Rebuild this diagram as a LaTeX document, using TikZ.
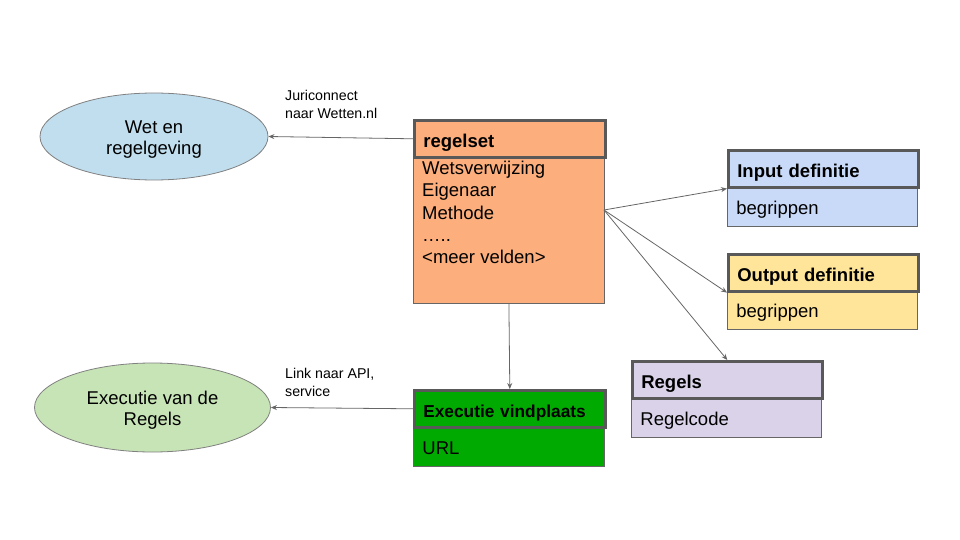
\documentclass[tikz,border=0pt]{standalone}
\usepackage{fontspec}
\setmainfont{Liberation Sans}
\usetikzlibrary{arrows.meta,shapes.geometric,calc}
\definecolor{hdrgray}{HTML}{595959}
\definecolor{linegray}{HTML}{666666}
\definecolor{orangefill}{RGB}{252,175,125}
\definecolor{inputfill}{HTML}{C9DAF8}
\definecolor{outputfill}{HTML}{FFE599}
\definecolor{regelsfill}{HTML}{D9D2E9}
\definecolor{execfill}{RGB}{0,170,0}
\definecolor{wetfill}{RGB}{192,222,238}
\definecolor{exellfill}{RGB}{199,228,182}
\begin{document}
\begin{tikzpicture}[x=1pt,y=-1pt,
  hdr/.style={draw=hdrgray, line width=2.6pt, anchor=north west, minimum height=37pt,
    text width=#1, inner xsep=9pt, inner ysep=0pt, align=left, text height=17pt, text depth=0pt,
    font=\fontsize{18.5}{22}\selectfont\bfseries},
  bodybox/.style={draw=linegray, line width=0.8pt, anchor=north west, minimum height=39pt,
    text width=#1, inner xsep=9pt, inner ysep=0pt, align=left, text height=19pt, text depth=4pt,
    font=\fontsize{18.5}{22}\selectfont},
  ell/.style={ellipse, draw=gray, line width=0.8pt, inner sep=0pt, align=center,
    font=\fontsize{18.5}{21}\selectfont},
  lbl/.style={anchor=north west, inner sep=0pt, align=left,
    font=\fontsize{14.2}{18}\selectfont},
  arr/.style={draw=linegray, line width=0.8pt, -{Stealth[length=6pt,width=5pt]}}
]
\useasboundingbox (0,0) rectangle (960,540);

% ellipses
\node[ell, fill=wetfill, minimum width=228pt, minimum height=87pt] (wet) at (154,136.5)
  {\rule{0pt}{19pt}Wet en\\regelgeving};
\node[ell, fill=exellfill, minimum width=236pt, minimum height=89pt] (exell) at (152.5,407.5)
  {\rule{0pt}{19pt}Executie van de\\Regels};

% regelset
\node[bodybox=173pt, fill=orangefill, minimum height=147pt] (rsb) at (413,156) {};
\node[hdr=173pt, fill=orangefill] (rsh) at (413,119) {regelset};
\node[anchor=north west, inner xsep=9pt, inner ysep=0pt, align=left,
  font=\fontsize{18.5}{22.3}\selectfont] (rstext) at (413,161)
  {Wetsverwijzing\\Eigenaar\\Methode\\…..\\<meer velden>};

% input definitie
\node[bodybox=172pt, fill=inputfill] (inb) at (727,187) {begrippen};
\node[hdr=172pt, fill=inputfill] (inh) at (727,149) {Input definitie};

% output definitie
\node[bodybox=172pt, fill=outputfill] (outb) at (727,290) {begrippen};
\node[hdr=172pt, fill=outputfill] (outh) at (727,253) {Output definitie};

% regels
\node[bodybox=172pt, fill=regelsfill] (regb) at (631,398) {Regelcode};
\node[hdr=172pt, fill=regelsfill] (regh) at (631,360) {Regels};

% executie vindplaats
\node[bodybox=173pt, fill=execfill] (exb) at (413,427) {URL};
\node[hdr=173pt, fill=execfill, font=\fontsize{17.3}{21}\selectfont\bfseries] (exh) at (413,389)
  {\mbox{Executie vindplaats}};

% labels
\node[lbl] (lbl1) at (285,90) {Juriconnect\\naar Wetten.nl};
\node[lbl] (lbl2) at (285,368.5) {Link naar API,\\service};

% connectors
\coordinate (src) at (604,210);
\draw[arr] (rsh.west) -- (wet.east);
\draw[arr] (src) -- (inh.south west);
\draw[arr] (src) -- (outh.south west);
\draw[arr] (src) -- (regh.north);
\draw[arr] (rsb.south) -- (exh.north);
\draw[arr] (exh.west) -- (exell.east);
\end{tikzpicture}
\end{document}
